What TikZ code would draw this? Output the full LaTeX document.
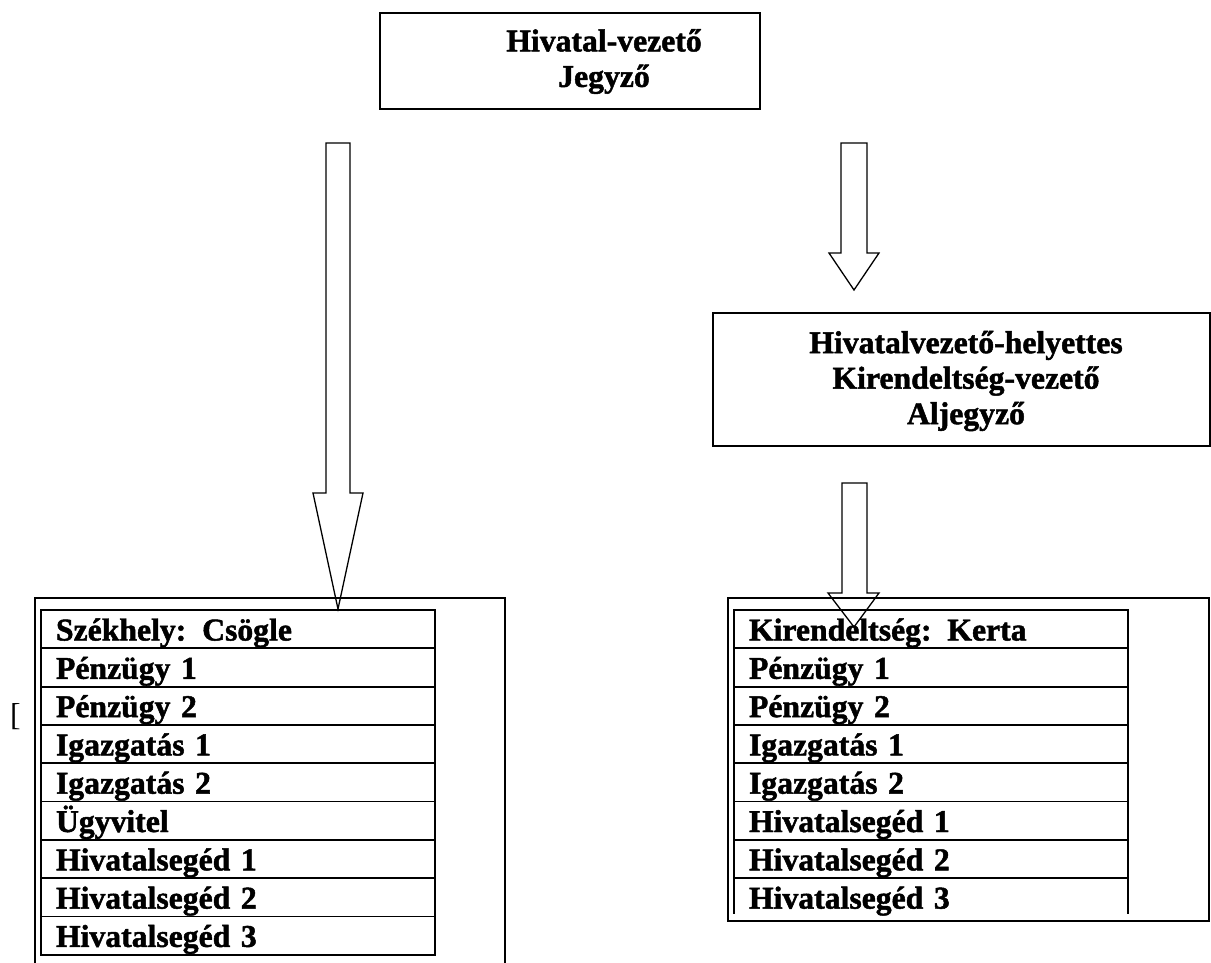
\documentclass[tikz,border=0pt]{standalone}
\usepackage{fontspec}
\setmainfont{Liberation Serif}[BoldFeatures={FakeBold=1.5}]
\begin{document}
\begin{tikzpicture}[x=1pt,y=-1pt,
  box/.style={draw, line width=1.6pt, inner sep=0pt, outer sep=0pt, anchor=north west},
  title/.style={font=\fontsize{31.7}{35.5}\selectfont\bfseries, align=center, inner sep=0pt},
  cell/.style={draw, line width=1.8pt, anchor=north west, text width=364pt,
    inner xsep=15pt, inner ysep=0pt, outer sep=0pt, text height=30.5pt, text depth=7.8pt,
    font=\fontsize{31.7}{36}\selectfont\bfseries, align=left},
  barr/.style={draw, line width=1.3pt, line join=miter},
  frame/.style={line width=1.6pt}]
\useasboundingbox (0,0) rectangle (1211,963);

% top box
\node[box, minimum width=380pt, minimum height=96pt] (hv) at (380,13) {};
\node[title] (hvt) at (604,61.5) {Hivatal-vezető\\Jegyző};

% second box
\node[box, minimum width=497pt, minimum height=133pt] (hh) at (713,313) {};
\node[title] (hht) at (966,381) {Hivatalvezető-helyettes\\Kirendeltség-vezető\\Aljegyző};

% left frame and table
\draw[frame] (35,963) -- (35,598) -- (505,598) -- (505,963);
\node[cell] (L1) at (41,610) {Székhely: Csögle};
\node[cell, anchor=north] (L2) at (L1.south) {Pénzügy 1};
\node[cell, anchor=north] (L3) at (L2.south) {Pénzügy 2};
\node[cell, anchor=north] (L4) at (L3.south) {Igazgatás 1};
\node[cell, anchor=north] (L5) at (L4.south) {Igazgatás 2};
\node[cell, anchor=north] (L6) at (L5.south) {Ügyvitel};
\node[cell, anchor=north] (L7) at (L6.south) {Hivatalsegéd 1};
\node[cell, anchor=north] (L8) at (L7.south) {Hivatalsegéd 2};
\node[cell, anchor=north] (L9) at (L8.south) {Hivatalsegéd 3};
\node[font=\fontsize{31.7}{36}\selectfont, inner sep=0pt, anchor=base west] (brk) at (10,725) {[};

% right frame and table
\node[box, minimum width=481pt, minimum height=323pt] (rf) at (728,598) {};
\node[cell] (R1) at (734,610) {Kirendeltség: Kerta};
\node[cell, anchor=north] (R2) at (R1.south) {Pénzügy 1};
\node[cell, anchor=north] (R3) at (R2.south) {Pénzügy 2};
\node[cell, anchor=north] (R4) at (R3.south) {Igazgatás 1};
\node[cell, anchor=north] (R5) at (R4.south) {Igazgatás 2};
\node[cell, anchor=north] (R6) at (R5.south) {Hivatalsegéd 1};
\node[cell, anchor=north] (R7) at (R6.south) {Hivatalsegéd 2};
\node[cell, anchor=north, draw=none] (R8) at (R7.south) {Hivatalsegéd 3};
\draw[line width=1.8pt] ([yshift=2.6pt]R8.south west) -- (R8.north west) -- (R8.north east) -- ([yshift=2.6pt]R8.south east);

% block arrows
\draw[barr] (326,143) -- (350,143) -- (350,493) -- (363,493) -- (338,609) -- (313,493) -- (326,493) -- cycle;
\draw[barr] (841,143) -- (867,143) -- (867,253) -- (879,253) -- (854,290) -- (829,253) -- (841,253) -- cycle;
\draw[barr] (842,483) -- (867,483) -- (867,593) -- (879,593) -- (854,627) -- (828,593) -- (842,593) -- cycle;
\end{tikzpicture}
\end{document}
